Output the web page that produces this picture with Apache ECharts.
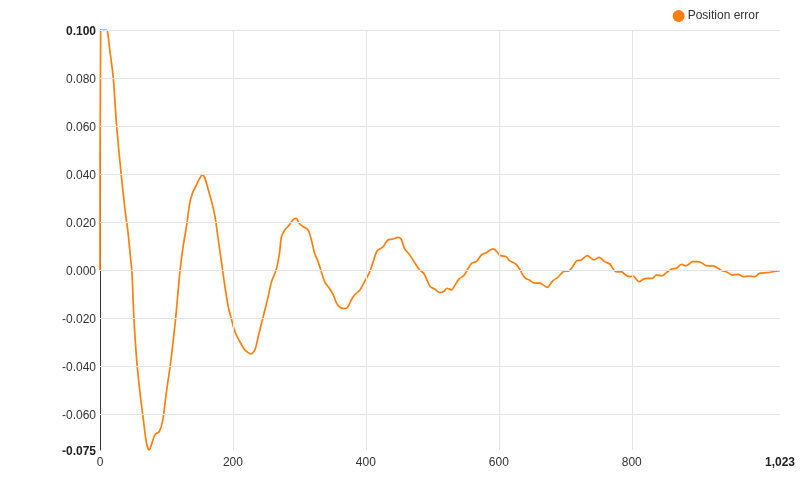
<!DOCTYPE html>
<html>
<head>
<meta charset="utf-8">
<script src="https://cdn.jsdelivr.net/npm/echarts@6/dist/echarts.min.js"></script>
<style>html,body{margin:0;padding:0;background:#fff}#c{width:800px;height:500px}</style>
</head>
<body>
<div id="c"></div>
<script>
var seriesName = 'Position error';
var xValues = [0,1,10,12,15,20,25,32,38,42,46,48,51,55,60,65,70,74,78,83,89,94,100,107,114,120,125,130,135,139,145,150,154,158,163,168,173,178,183,188,193,198,203,211,218,222,227,233,238,243,248,253,258,265,270,273,278,285,290,295,300,306,313,318,323,328,333,338,345,351,356,361,368,373,378,383,391,398,406,411,417,426,433,441,448,453,458,466,474,481,487,492,497,504,511,517,522,529,534,540,548,554,559,566,574,581,587,592,597,602,611,616,626,632,639,646,654,662,667,673,681,689,697,706,711,717,724,733,743,751,759,767,773,778,784,791,797,802,807,811,817,823,831,837,846,852,860,867,875,881,886,891,897,905,912,922,930,936,942,951,960,968,977,985,992,1003,1013,1023];
var yValues = [0,0.1,0.1,0.098,0.091,0.080,0.060,0.0396,0.0243,0.016,0.0049,-0.0007,-0.020,-0.0368,-0.0507,-0.0618,-0.0722,-0.0750,-0.0722,-0.0685,-0.0674,-0.0632,-0.0507,-0.0370,-0.0195,-0.0014,0.0097,0.018,0.0278,0.032,0.0354,0.0382,0.0396,0.0382,0.0333,0.0285,0.0222,0.0125,0.0028,-0.007,-0.0153,-0.0208,-0.0257,-0.0302,-0.0333,-0.0342,-0.0350,-0.0333,-0.0278,-0.0222,-0.0167,-0.0111,-0.0049,0.0,0.0069,0.0139,0.0167,0.0188,0.0208,0.0215,0.0194,0.018,0.0167,0.0125,0.0069,0.0035,-0.0007,-0.0049,-0.0076,-0.0104,-0.0139,-0.0155,-0.0161,-0.0153,-0.0125,-0.0104,-0.0083,-0.0049,-0.0007,0.0035,0.0079,0.0097,0.0125,0.0129,0.0136,0.0129,0.009,0.0063,0.0028,0.0,-0.0014,-0.0042,-0.007,-0.008,-0.0094,-0.009,-0.0076,-0.0083,-0.0063,-0.0038,-0.0021,0.0007,0.0028,0.0035,0.0063,0.0072,0.0083,0.0088,0.0076,0.006,0.0055,0.0039,0.0024,0.0,-0.0032,-0.0042,-0.0055,-0.0055,-0.0063,-0.0072,-0.0045,-0.003,-0.0007,-0.0003,0.0014,0.0038,0.0042,0.006,0.0042,0.0053,0.0035,0.0025,0.0,-0.0008,-0.0007,-0.0021,-0.0028,-0.0025,-0.0039,-0.0049,-0.0039,-0.0035,-0.0035,-0.0021,-0.0024,-0.0011,0.0004,0.0007,0.0024,0.0017,0.0024,0.0035,0.0035,0.003,0.0018,0.0017,0.0007,-0.0003,-0.0007,-0.0021,-0.0018,-0.0028,-0.0025,-0.0028,-0.0014,-0.0011,-0.0007,-0.0003];
var xMin = 0, xMax = 1023;
var yMin = -0.075, yMax = 0.1;
var xTicks = [0, 200, 400, 600, 800, 1023];
var yTicks = [-0.075, -0.06, -0.04, -0.02, 0, 0.02, 0.04, 0.06, 0.08, 0.1];
var xGrid = [200, 400, 600, 800];
var yGrid = [-0.06, -0.04, -0.02, 0, 0.02, 0.04, 0.06, 0.08, 0.1];

var data = xValues.map(function (x, i) { return [x, yValues[i]]; });
var gridLines = [];
xGrid.forEach(function (v) { gridLines.push({ xAxis: v }); });
yGrid.forEach(function (v) { gridLines.push({ yAxis: v }); });

var chart = echarts.init(document.getElementById('c'), null, { renderer: 'canvas' });
var fontFamily = 'Arial, "Liberation Sans", sans-serif';
chart.setOption({
  animation: false,
  textStyle: { fontFamily: fontFamily },
  legend: {
    data: [{ name: seriesName, icon: 'circle' }],
    right: 36, top: 5,
    itemWidth: 12, itemHeight: 12, itemGap: 10,
    textStyle: { fontSize: 12, color: '#333', fontFamily: fontFamily, padding: [0, 0, 0, -2] }
  },
  grid: { left: 100, right: 20, top: 30, bottom: 50, containLabel: false },
  xAxis: {
    type: 'value', min: xMin, max: xMax,
    axisLine: { show: false },
    axisTick: { show: false },
    splitLine: { show: false },
    axisLabel: {
      customValues: xTicks,
      margin: 7,
      fontSize: 12, color: '#333', fontFamily: fontFamily,
      formatter: function (v) {
        var s = Math.round(v).toLocaleString('en-US');
        return (v === xMax) ? '{b|' + s + '}' : s;
      },
      rich: { b: { fontWeight: 'bold', fontSize: 12, color: '#222', fontFamily: fontFamily } }
    }
  },
  yAxis: {
    type: 'value', min: yMin, max: yMax,
    axisLine: { show: true, lineStyle: { color: '#333', width: 1 } },
    axisTick: { show: false },
    splitLine: { show: false },
    axisLabel: {
      customValues: yTicks,
      margin: 4,
      padding: [4, 0, 0, 0],
      fontSize: 12, color: '#333', fontFamily: fontFamily,
      formatter: function (v) {
        var s = v.toFixed(3);
        return (Math.abs(v - yMin) < 1e-9 || Math.abs(v - yMax) < 1e-9) ? '{b|' + s + '}' : s;
      },
      rich: { b: { fontWeight: 'bold', fontSize: 12, color: '#222', fontFamily: fontFamily } }
    }
  },
  series: [
    {
      type: 'line', name: '__grid', data: [], z: 1, silent: true,
      markLine: {
        silent: true, symbol: ['none', 'none'], label: { show: false },
        lineStyle: { color: '#e3e3e3', width: 1, type: 'solid' },
        animation: false,
        data: gridLines
      }
    },
    {
      type: 'line', name: seriesName, data: data, z: 3,
      showSymbol: false, symbol: 'none',
      smooth: 0.3,
      itemStyle: { color: '#ff7f0e' },
      lineStyle: { color: '#ff7f0e', width: 1.7 }
    }
  ]
});
</script>
</body>
</html>
